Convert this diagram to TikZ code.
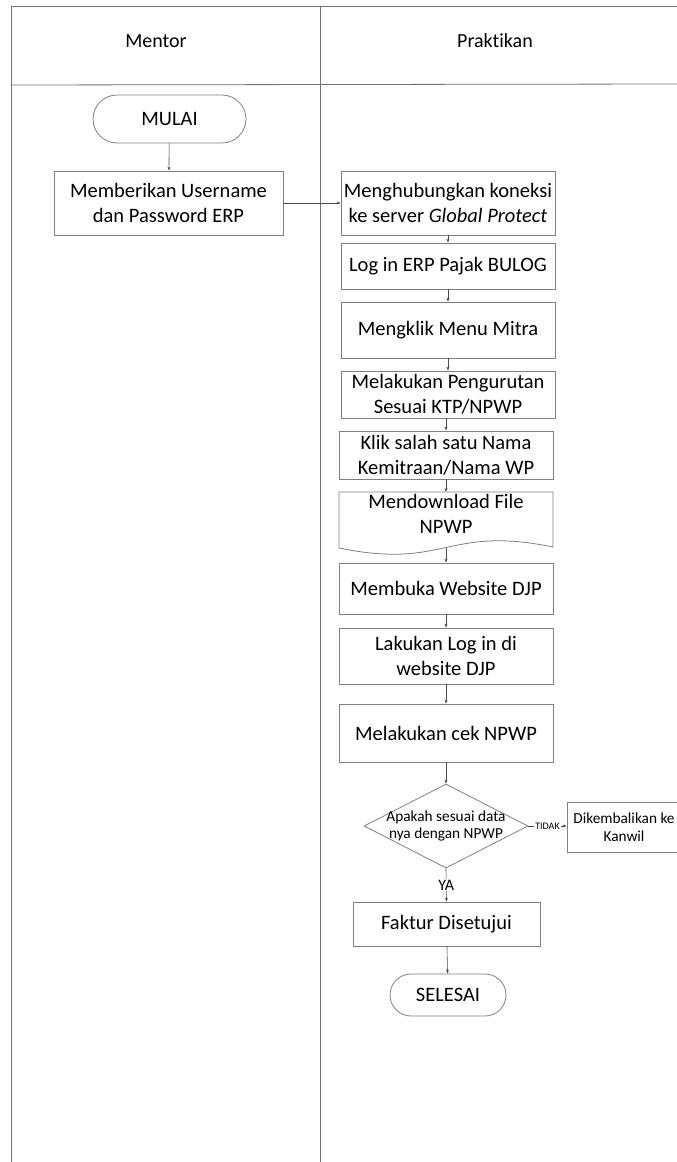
\documentclass[tikz,border=0pt]{standalone}
\usepackage{fontspec}
\setmainfont{Carlito}[Ligatures={NoCommon},Contextuals={NoAlternate}]
\usetikzlibrary{arrows.meta,shapes.geometric}
\begin{document}
\begin{tikzpicture}[x=1pt,y=-1pt,
  lane/.style={draw=black!55,line width=0.8pt},
  box/.style={draw=black!50,line width=0.8pt,rectangle,inner sep=0pt,align=center,
    font=\fontsize{20.5}{25}\selectfont},
  term/.style={box,rounded corners=19pt},
  smallbox/.style={box,font=\fontsize{15.3}{18}\selectfont},
  conn/.style={draw=black!70,line width=0.6pt,-{Stealth[length=4pt,width=3pt]}},
  head/.style={font=\fontsize{20}{24}\selectfont},
  lbl/.style={fill=white,inner sep=1pt}]
\useasboundingbox (0,0) rectangle (677,1162);
\clip (0,0) rectangle (677,1162);

% swimlanes
\draw[lane] (11,6) -- (677,6);
\draw[lane] (11,6) -- (11,1162);
\draw[lane] (320,6) -- (320,1162);
\draw[lane] (11,85) -- (677,84);
\node[head] (hmentor) at (156,41) {Mentor};
\node[head] (hprak) at (495,41) {Pra\kern0ptktikan};

% Mentor lane
\node[term,minimum width=153pt,minimum height=48pt,rounded corners=24pt] (mulai) at (169.5,119) {MULAI};
\node[box,minimum width=229pt,minimum height=64pt] (memb) at (168.5,203) {Memberikan Username\\dan Password ERP};

% Praktikan lane
\node[box,minimum width=214pt,minimum height=64pt] (mengh) at (448,203) {Menghubungkan koneksi\\ke server \textit{Global Protect}};
\node[box,minimum width=214pt,minimum height=46pt] (login) at (448,266) {Log in ERP Pajak BULOG};
\node[box,minimum width=214pt,minimum height=56pt] (klikmenu) at (448,330) {Mengklik Menu Mitra};
\node[box,minimum width=214pt,minimum height=47pt] (urut) at (448,394.5) {Melakukan Pengurutan\\Sesuai KTP/NPWP};
\node[box,minimum width=214pt,minimum height=48pt] (klik) at (446,455) {Klik salah satu Nama\\Kemitraan/Nama WP};

% document shape
\coordinate (dtop) at (446,492);
\coordinate (dbot) at (446,547.5);
\draw[draw=black!50,line width=0.8pt] (339,548) -- (339,492) -- (553,492) -- (553,547)
  .. controls (446,525) and (446,570) .. (339,548);
\node[align=center,inner sep=0pt,font=\fontsize{20.5}{25}\selectfont] (download) at (446,514) {Mendownload File\\NPWP};

\node[box,minimum width=214pt,minimum height=51pt] (buka) at (446,588.5) {Membuka Website DJP};
\node[box,minimum width=214pt,minimum height=56pt] (lakukan) at (446,656) {Lakukan Log in di\\website DJP};
\node[box,minimum width=214pt,minimum height=58pt] (cek) at (446,733) {Melakukan cek NPWP};

\node[diamond,draw=black!50,line width=0.8pt,minimum width=164pt,minimum height=84pt,inner sep=0pt] (dec) at (446,826) {};
\node[align=center,inner sep=0pt,font=\fontsize{15.3}{17}\selectfont] (dectext) at (446,826) {Apakah sesuai data\\nya dengan NPWP};

\node[smallbox,minimum width=114pt,minimum height=50pt] (kembali) at (624,827) {Dikembalikan ke\\Kanwil};

\node[box,minimum width=187pt,minimum height=44pt] (faktur) at (446.5,924) {Faktur Disetujui};
\node[term,minimum width=116pt,minimum height=42pt,rounded corners=21pt] (selesai) at (448,995) {SELESAI};

% connectors
\draw[conn] (mulai) -- (memb);
\draw[conn] (memb.east) -- (mengh.west);
\draw[conn] (mengh) -- (login);
\draw[conn] (login) -- (klikmenu);
\draw[conn] (klikmenu) -- (urut);
\draw[conn] (urut.south -| klik.north) -- (klik.north);
\draw[conn] (klik.south) -- (dtop);
\draw[conn] (dbot) -- (buka.north);
\draw[conn] (buka) -- (lakukan);
\draw[conn] (lakukan) -- (cek);
\draw[conn] (cek.south) -- (dec.north);
\draw[conn] (dec.east) -- node[lbl,font=\fontsize{10}{12}\selectfont] (tidak) {TIDAK} (kembali.west |- dec.east);
\draw[conn] (dec.south) -- node[lbl,font=\fontsize{16}{19}\selectfont] (ya) {YA} (faktur.north);
\draw[conn] (faktur) -- (selesai);
\end{tikzpicture}
\end{document}
